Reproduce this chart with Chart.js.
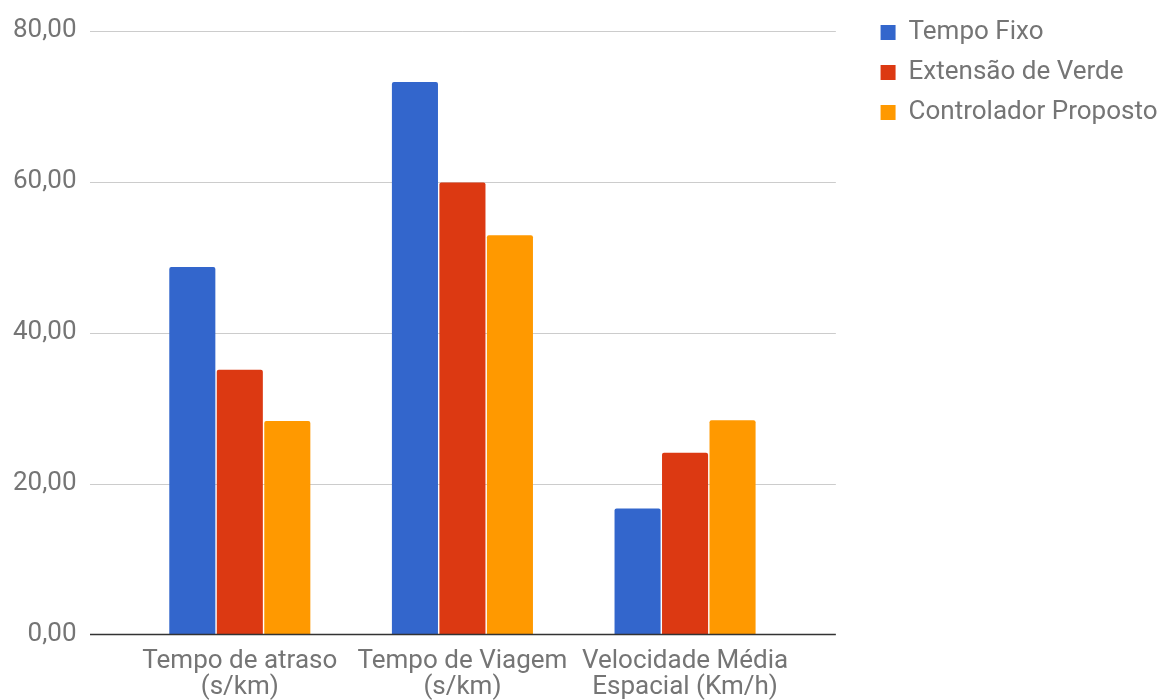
<!DOCTYPE html>
<html>
<head>
<meta charset="utf-8">
<script src="https://cdn.jsdelivr.net/npm/chart.js@4.4.1/dist/chart.umd.min.js"></script>
<style>
  html, body { margin: 0; padding: 0; background: #ffffff; }
  canvas { display: block; }
</style>
</head>
<body>
<canvas id="chart" width="1163" height="700"></canvas>
<script>
// Categories (two-line labels) and series values
const categories = [
  ['Tempo de atraso', '(s/km)'],
  ['Tempo de Viagem', '(s/km)'],
  ['Velocidade Média', 'Espacial (Km/h)']
];
const seriesNames = ['Tempo Fixo', 'Extensão de Verde', 'Controlador Proposto'];
const tempoFixo = [48.7, 73.2, 16.7];
const extensaoDeVerde = [35.1, 59.9, 24.1];
const controladorProposto = [28.3, 52.9, 28.4];
const yTicks = [0, 20, 40, 60, 80];

const seriesColors = ['#3366cc', '#dc3912', '#ff9900'];
const textColor = '#757575';
const fontFamily = 'Roboto, "Noto Sans", sans-serif';
const fontSize = 26;

// Horizontal gridlines run a little past the bar area on both sides,
// and the zero baseline is drawn darker on top of the bars.
const gridPlugin = {
  id: 'wideGrid',
  beforeDatasetsDraw(chart) {
    const { ctx, chartArea } = chart;
    const y = chart.scales.y;
    const x0 = chartArea.left - 38.5;
    const x1 = chartArea.right + 39.5;
    ctx.save();
    ctx.strokeStyle = '#cccccc';
    ctx.lineWidth = 1;
    yTicks.forEach(v => {
      if (v === 0) return;
      const py = Math.round(y.getPixelForValue(v)) + 0.5;
      ctx.beginPath();
      ctx.moveTo(x0, py);
      ctx.lineTo(x1, py);
      ctx.stroke();
    });
    ctx.restore();
  },
  afterDatasetsDraw(chart) {
    const { ctx, chartArea } = chart;
    const y = chart.scales.y;
    const x0 = chartArea.left - 38.5;
    const x1 = chartArea.right + 39.5;
    const py = y.getPixelForValue(0);
    ctx.save();
    ctx.strokeStyle = '#333333';
    ctx.lineWidth = 1.5;
    ctx.beginPath();
    ctx.moveTo(x0, py);
    ctx.lineTo(x1, py);
    ctx.stroke();
    ctx.restore();
  }
};

const seriesValues = [tempoFixo, extensaoDeVerde, controladorProposto];

new Chart(document.getElementById('chart'), {
  type: 'bar',
  data: {
    labels: categories,
    datasets: seriesNames.map((name, i) => ({
      label: name,
      data: seriesValues[i],
      backgroundColor: seriesColors[i],
      borderRadius: 2,
      borderSkipped: 'bottom',
      categoryPercentage: 0.64,
      barPercentage: 0.97
    }))
  },
  options: {
    responsive: false,
    animation: false,
    layout: { padding: { top: 5.5, right: -4.5, bottom: 0, left: 0 } },
    plugins: {
      legend: {
        position: 'right',
        align: 'start',
        maxWidth: 420,
        labels: {
          boxWidth: 15,
          boxHeight: 15,
          padding: 14,
          color: textColor,
          font: { family: fontFamily, size: fontSize }
        }
      },
      tooltip: { enabled: false }
    },
    scales: {
      x: {
        type: 'category',
        position: 'bottom',
        grid: { display: false, drawTicks: false },
        border: { display: false },
        ticks: {
          color: textColor,
          font: { family: fontFamily, size: fontSize, lineHeight: '26px' },
          padding: 14,
          maxRotation: 0,
          autoSkip: false
        },
        afterFit(s) { s.height = 65.4; }
      },
      y: {
        type: 'linear',
        position: 'left',
        min: 0,
        max: 80,
        grid: {
          display: true,
          drawOnChartArea: false,
          drawTicks: true,
          tickLength: 52,
          tickColor: 'rgba(0,0,0,0)'
        },
        border: { display: false },
        ticks: {
          color: textColor,
          font: { family: fontFamily, size: fontSize },
          padding: 0,
          callback: v => v.toFixed(2).replace('.', ',')
        },
        afterBuildTicks(s) { s.ticks = yTicks.map(v => ({ value: v })); },
        afterFit(s) { s.width = 128.5; }
      },
      topSpace: {
        type: 'linear',
        position: 'top',
        display: true,
        grid: { display: false, drawTicks: false },
        border: { display: false },
        ticks: { display: false },
        afterFit(s) { s.height = 25.2; }
      },
      rightSpace: {
        type: 'linear',
        position: 'right',
        display: true,
        grid: { display: false, drawTicks: false },
        border: { display: false },
        ticks: { display: false },
        afterFit(s) { s.width = 70.2; }
      }
    }
  },
  plugins: [gridPlugin]
});
</script>
</body>
</html>
